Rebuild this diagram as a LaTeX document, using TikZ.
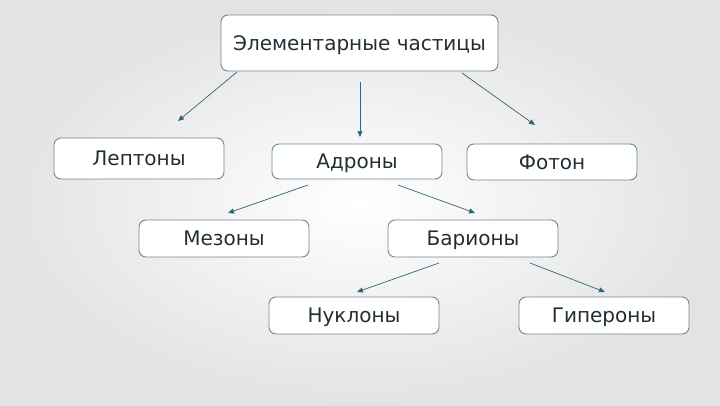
\documentclass[tikz,border=0pt]{standalone}
\usepackage{fontspec}
\setmainfont{DejaVu Sans}
\usetikzlibrary{arrows.meta}
\definecolor{boxline}{HTML}{6E8894}
\definecolor{txt}{HTML}{222E35}
\definecolor{arr}{HTML}{2F6577}
\tikzset{
  box/.style={draw=boxline, line width=0.9pt, fill=white, rounded corners=7pt,
    minimum width=170pt, minimum height=37pt, inner sep=0pt, text=txt,
    text height=14.5pt, text depth=0pt,
    font=\fontsize{20}{24}\selectfont},
  conn/.style={draw=arr, line width=0.7pt, -{Triangle[length=6pt,width=5pt]}}
}
\begin{document}
\begin{tikzpicture}[x=1pt,y=-1pt]
\shade[inner color=white, outer color=black!11] (0,0) rectangle (720,405);
\useasboundingbox (0,0) rectangle (720,405);
\node[box, minimum width=277pt, minimum height=56pt] (top) at (359.5,43) {Элементарные частицы};
\node[box, minimum height=41pt] (lep) at (139,158.5) {Лептоны};
\node[box, minimum height=35pt] (adr) at (357,161.5) {Адроны};
\node[box, minimum height=36pt] (fot) at (552,162) {Фотон};
\node[box] (mez) at (224,238.5) {Мезоны};
\node[box] (bar) at (473,238.5) {Барионы};
\node[box] (nuk) at (354,315.5) {Нуклоны};
\node[box] (gip) at (604,315.5) {Гипероны};
% connector ends
\coordinate (t1) at (237,72);   \coordinate (l1) at (178,121);
\coordinate (t2) at (360,82);   \coordinate (a0) at (360,137);
\coordinate (t3) at (462,73);   \coordinate (f1) at (535,125);
\coordinate (a1) at (308,185);  \coordinate (m1) at (228,213);
\coordinate (a2) at (398,185);  \coordinate (b1) at (475,213);
\coordinate (b2) at (439,263);  \coordinate (n1) at (357,292);
\coordinate (b3) at (530,263);  \coordinate (g1) at (605,292);
\draw[conn] (t1) -- (l1);
\draw[conn] (t2) -- (a0);
\draw[conn] (t3) -- (f1);
\draw[conn] (a1) -- (m1);
\draw[conn] (a2) -- (b1);
\draw[conn] (b2) -- (n1);
\draw[conn] (b3) -- (g1);
\end{tikzpicture}
\end{document}
